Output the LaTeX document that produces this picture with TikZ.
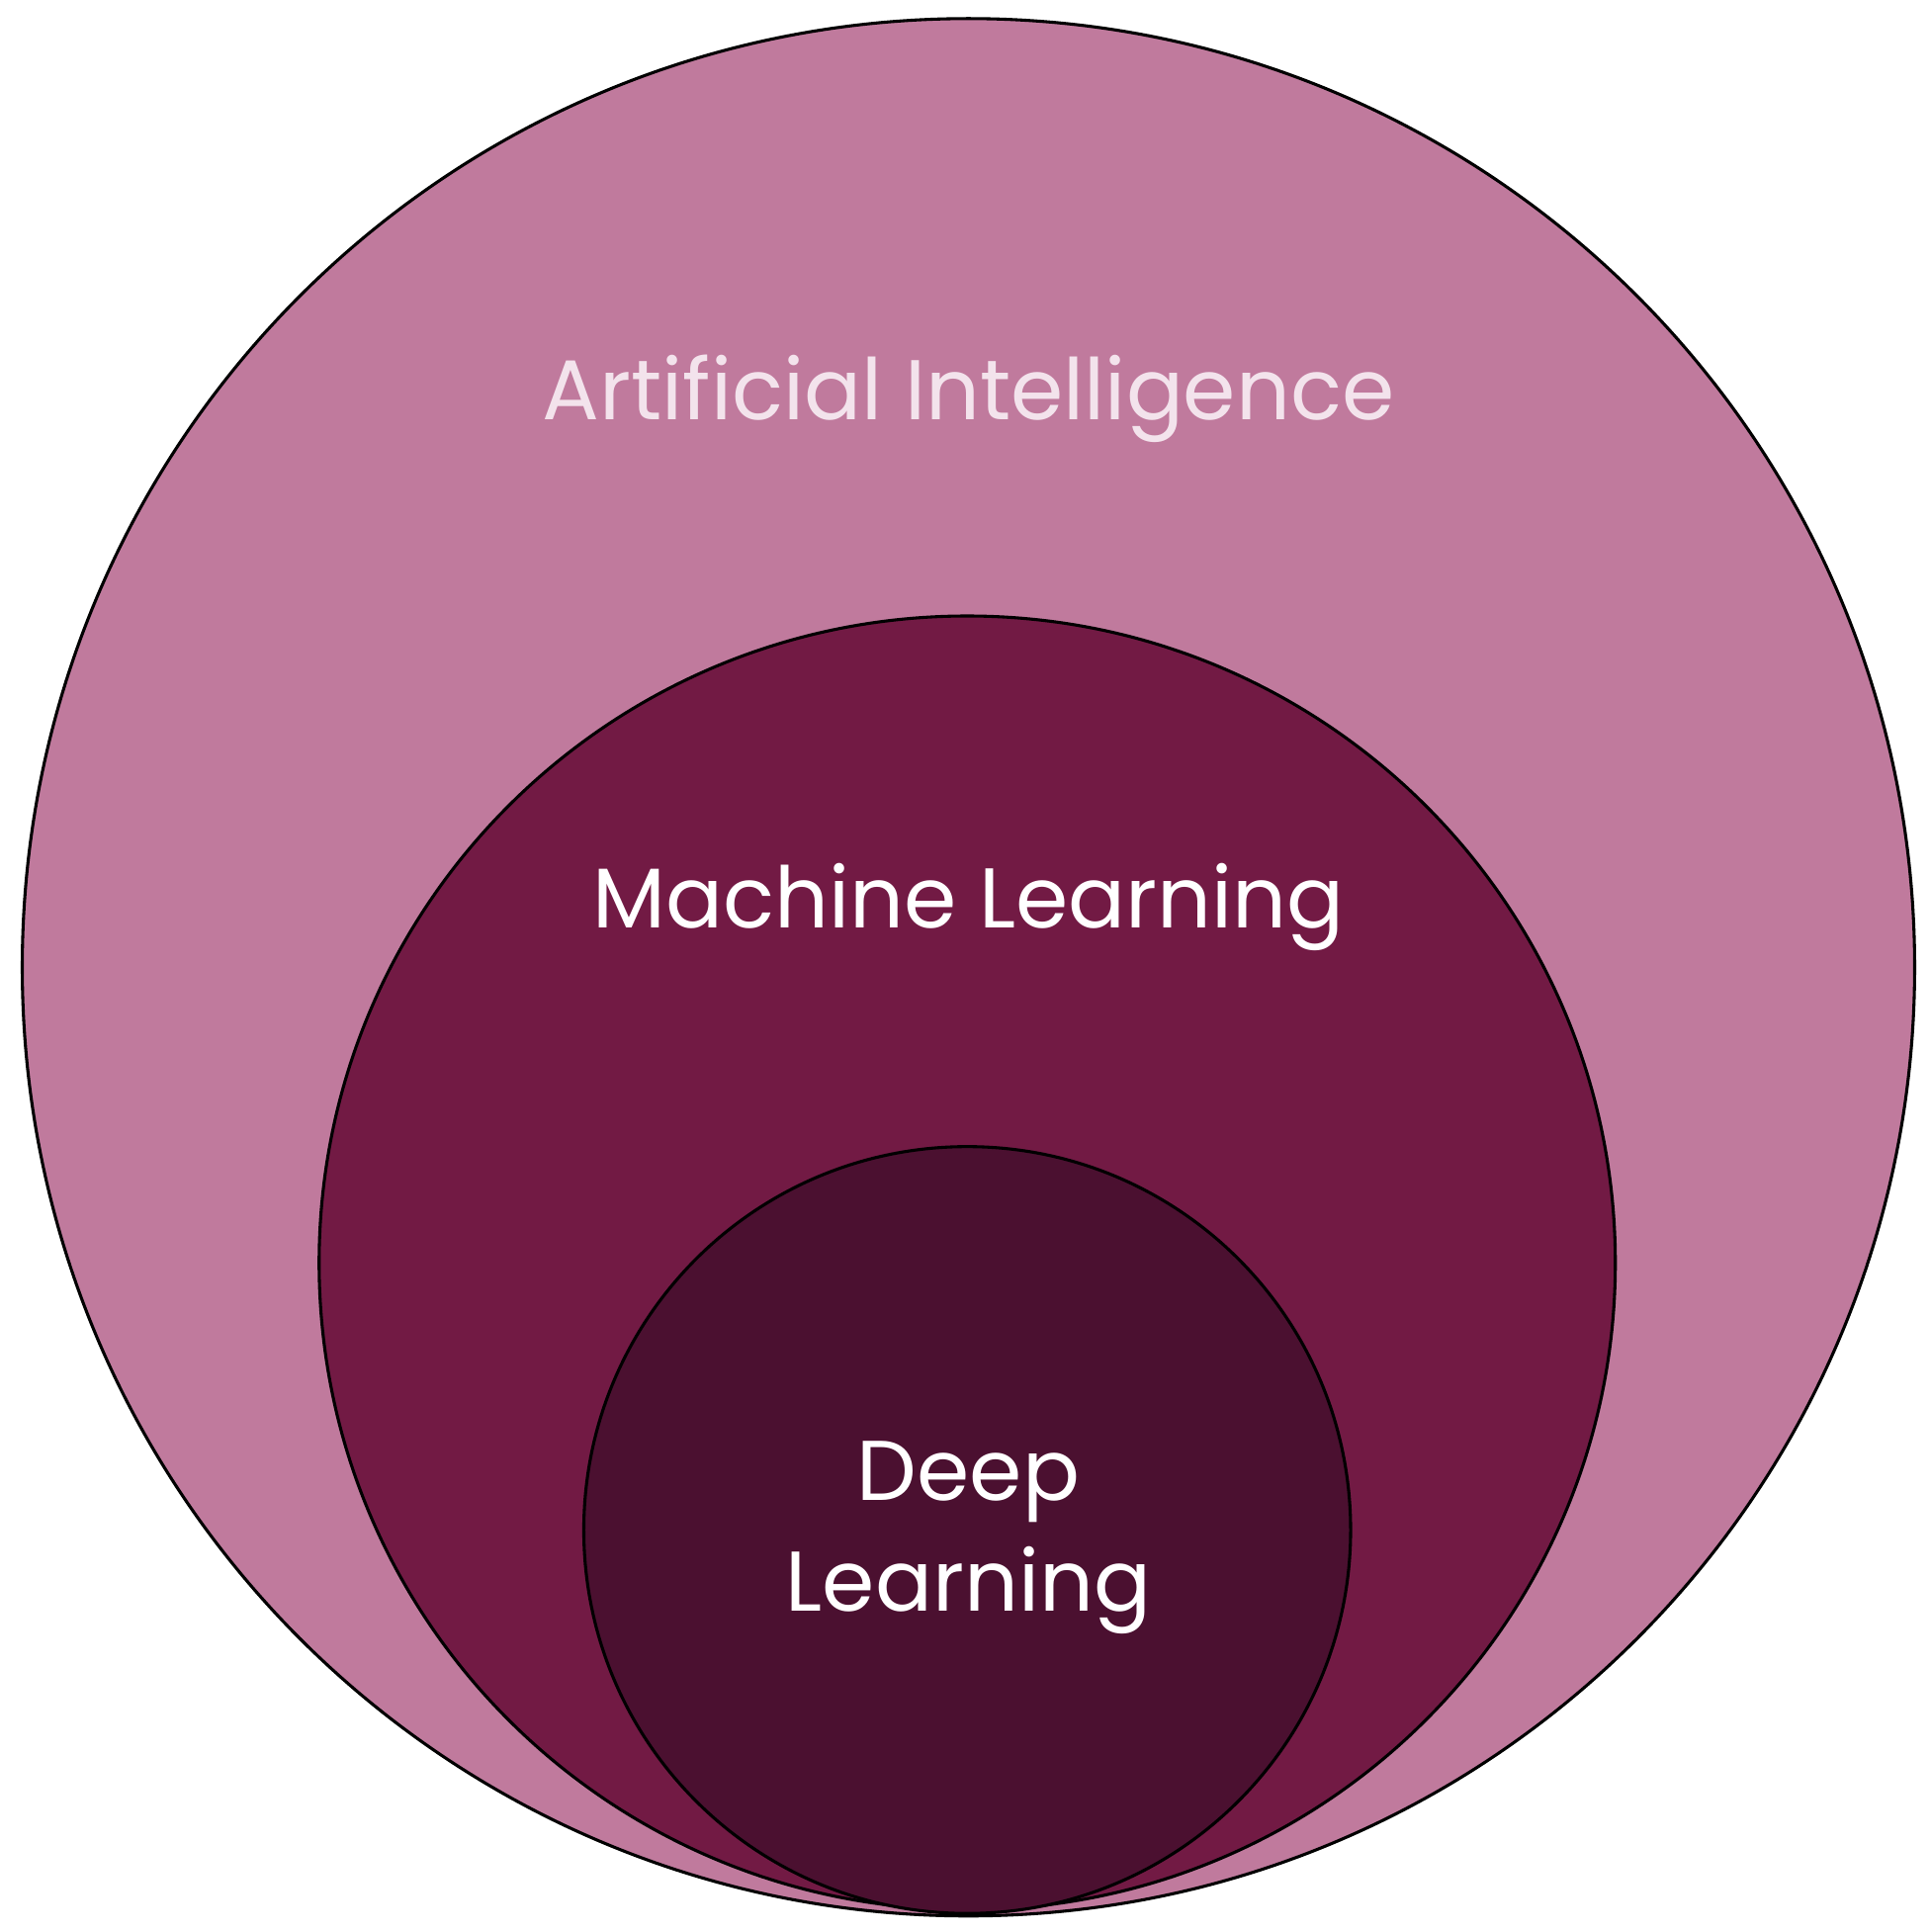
\documentclass[tikz,border=0pt]{standalone}
\usepackage{fontspec}
\setmainfont{Poppins}
\definecolor{aic}{HTML}{C07A9D}
\definecolor{mlc}{HTML}{721A44}
\definecolor{dlc}{HTML}{4B1030}
\definecolor{aitext}{HTML}{F3E3EC}
\begin{document}
\begin{tikzpicture}[x=0.01cm,y=-0.01cm,
  circ/.style={draw=black, line width=0.7pt},
  lbl/.style={font=\fontsize{19.5}{25.5}\selectfont, align=center}]
\useasboundingbox (0,0) rectangle (1560,1562);
\fill[white] (0,0) rectangle (1560,1562);
\draw[circ, fill=aic] (783,782) ellipse [x radius=765, y radius=767];
\draw[circ, fill=mlc] (782,1021) ellipse [x radius=524, y radius=523];
\draw[circ, fill=dlc] (782,1237) circle [radius=310];
\node[lbl, text=aitext] (ai) at (783,322) {Artificial Intelligence};
\node[lbl, text=white] (ml) at (783,733) {Machine Learning};
\node[lbl, text=white] (dl) at (783,1243) {Deep\\Learning};
\end{tikzpicture}
\end{document}
